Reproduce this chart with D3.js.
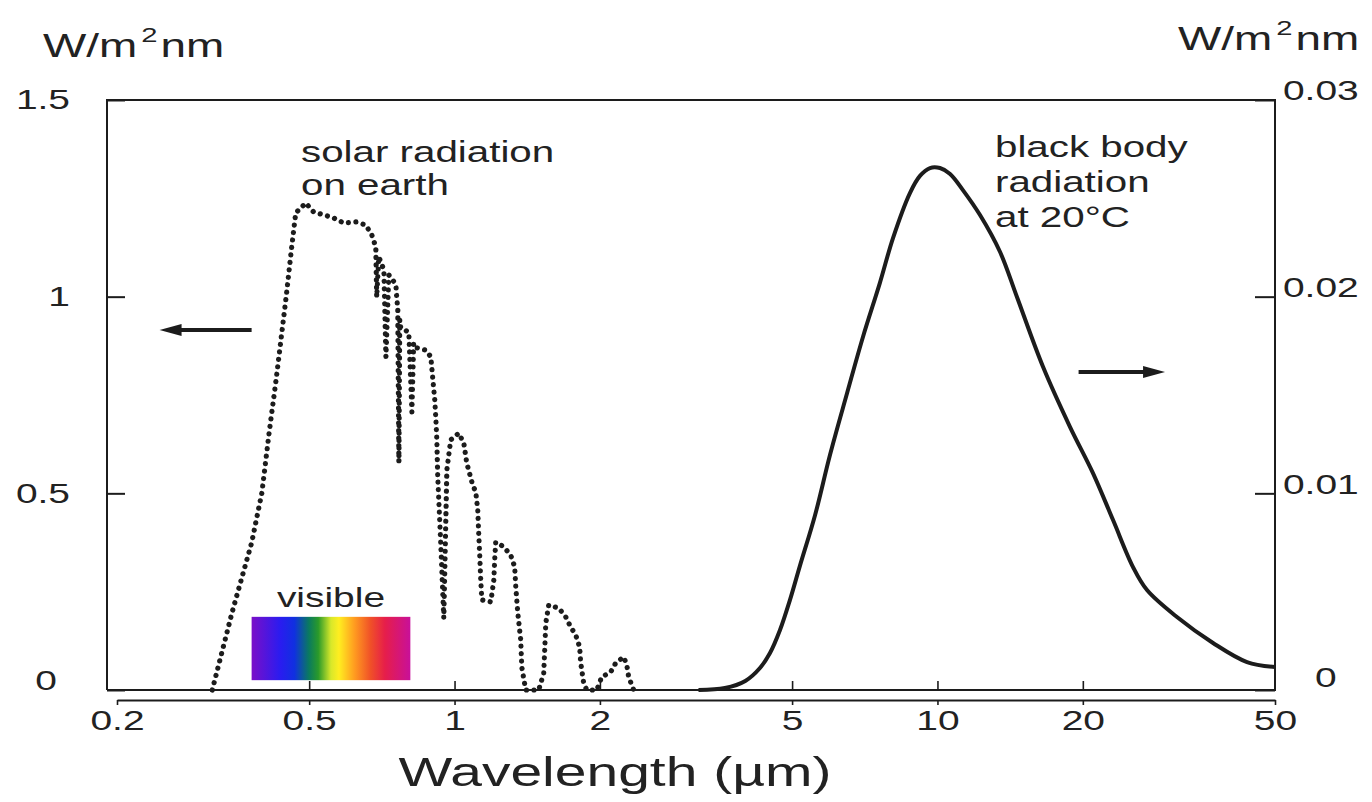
<!DOCTYPE html>
<html>
<head>
<meta charset="utf-8">
<script src="https://cdn.jsdelivr.net/npm/d3@7"></script>
<style>
  html, body { margin: 0; padding: 0; background: #fff; }
  svg { display: block; }
  text { font-family: "Liberation Sans", Arial, Helvetica, sans-serif; fill: #222; }
</style>
</head>
<body>
<svg id="chart" width="1372" height="802"></svg>
<script>
const xTicks = [0.2, 0.5, 1, 2, 5, 10, 20, 50];
const leftTicks = [0, 0.5, 1, 1.5];
const rightTicks = [0, 0.01, 0.02, 0.03];

// solar radiation on earth (dotted line, left axis, W/m²nm)
const solarWl = [0.315,0.346,0.380,0.399,0.413,0.427,0.448,0.460,0.469,0.492,0.511,0.536,0.562,0.590,0.625,0.655,0.674,0.687,
  0.690,0.697,0.714,0.721,0.731,0.738,0.756,0.759,0.763,0.767,0.770,0.774,0.804,0.816,0.823,0.835,0.872,0.893,0.902,0.910,
  0.915,0.919,0.923,0.936,0.950,0.964,0.982,1.020,1.045,1.060,1.086,1.107,1.117,1.122,1.128,1.133,1.139,1.189,1.206,1.211,
  1.217,1.264,1.307,1.332,1.339,1.352,1.371,1.378,1.404,1.494,1.530,1.538,1.545,1.567,1.644,1.699,1.740,1.782,1.816,1.825,
  1.851,1.878,1.970,2.017,2.106,2.157,2.240,2.273,2.294,2.350];
const solarVal = [0,0.196,0.374,0.501,0.653,0.788,0.999,1.126,1.213,1.238,1.215,1.208,1.200,1.187,1.190,1.182,1.157,1.126,
  0.999,1.101,1.068,0.847,1.055,1.050,1.030,0.999,0.966,0.580,0.941,0.920,0.910,0.707,0.882,0.870,0.864,0.847,0.788,0.737,
  0.686,0.636,0.542,0.376,0.183,0.559,0.636,0.653,0.628,0.577,0.529,0.501,0.458,0.399,0.338,0.280,0.229,0.224,0.280,0.331,
  0.376,0.364,0.343,0.313,0.262,0.196,0.127,0.058,0,0,0.043,0.109,0.170,0.216,0.208,0.186,0.160,0.140,0.109,0.069,
  0.018,0,0,0.033,0.046,0.069,0.084,0.064,0.033,0];

// black body radiation at 20°C (solid line, right axis)
const bodyWl = [3.20,3.63,4.00,4.29,4.50,4.72,4.95,5.19,5.58,5.99,6.50,7.01,7.60,8.09,8.77,9.20,9.65,10.12,10.62,11.29,
  12.25,13.48,14.61,16.55,18.82,20.99,23.10,25.41,27.16,31.33,37.21,43.75,50];
const bodyVal = [0,0.0001,0.00046,0.00112,0.00188,0.00305,0.00458,0.00631,0.0089,0.01195,0.0151,0.01795,0.0207,0.02298,
  0.02527,0.02614,0.02654,0.02654,0.02624,0.02542,0.02415,0.02227,0.01998,0.01642,0.01337,0.01103,0.00864,0.00625,
  0.00508,0.00371,0.00239,0.00142,0.00117];

const visibleBand = [0.38, 0.81];
const visibleLevel = [0.025, 0.186];
const spectrumStops = [
  [0.00, '#7a0fc8'], [0.18, '#2a1cf0'], [0.27, '#1030e0'], [0.36, '#0a7a60'], [0.42, '#2a9a2a'],
  [0.50, '#d8e82a'], [0.55, '#ffee20'], [0.65, '#ff9a20'], [0.75, '#f05028'], [0.84, '#e61e4a'], [1.00, '#c8109a']
];

const SX = 1.39;          // the scan is stretched sideways, text too
const INK = '#1c1c1c';

const svg = d3.select('#chart');
const x = d3.scaleLog().domain([0.2, 50]).range([117, 1275]);
const y = d3.scaleLinear().domain([0, 1.5]).range([690, 100]);
const yR = d3.scaleLinear().domain([0, 0.03]).range([690, 100]);

const frameL = x(0.2) - 10, frameR = x(50), frameT = y(1.5), frameB = y(0);

function stretchText(sel) {
  sel.each(function () {
    const t = d3.select(this);
    const tx = +t.attr('x') || 0;
    t.attr('x', tx / SX).attr('transform', `scale(${SX},1)`);
  });
}

function label(txt, px, py, size, anchor) {
  return svg.append('text')
    .attr('transform', `translate(${px},${py}) scale(${SX},1)`)
    .attr('font-size', size)
    .attr('text-anchor', anchor || 'start')
    .text(txt);
}

// visible spectrum bar
const grad = svg.append('defs').append('linearGradient').attr('id', 'spec');
spectrumStops.forEach(s => grad.append('stop').attr('offset', s[0]).attr('stop-color', s[1]));
svg.append('rect')
  .attr('x', x(visibleBand[0]))
  .attr('y', y(visibleLevel[1]))
  .attr('width', x(visibleBand[1]) - x(visibleBand[0]))
  .attr('height', y(visibleLevel[0]) - y(visibleLevel[1]))
  .attr('fill', 'url(#spec)');
label('visible', (x(visibleBand[0]) + x(visibleBand[1])) / 2, 607, 28, 'middle');

// frame
svg.append('path')
  .attr('d', `M${frameL},${frameB}V${frameT}H${frameR}V${frameB}H${frameL}`)
  .attr('fill', 'none').attr('stroke', INK).attr('stroke-width', 2);

// left axis
const gl = svg.append('g').attr('transform', `translate(${frameL},0)`)
  .call(d3.axisLeft(y).tickValues(leftTicks).tickSize(-18).tickPadding(37)
    .tickFormat(d => d === 0 ? '0' : String(d)));
gl.select('.domain').remove();
gl.selectAll('line').attr('stroke', INK).attr('stroke-width', 2);
gl.selectAll('text').attr('font-size', 28).attr('fill', '#222')
  .attr('y', d => d === 0 ? -9 : 0)
  .attr('x', d => d === 0 ? -50 : -37);
stretchText(gl.selectAll('text'));

// right axis
const gr = svg.append('g').attr('transform', `translate(${frameR},0)`)
  .call(d3.axisRight(yR).tickValues(rightTicks).tickSize(-20).tickPadding(8)
    .tickFormat(d => d === 0 ? '0' : d3.format('.2f')(d)));
gr.select('.domain').remove();
gr.selectAll('line').attr('stroke', INK).attr('stroke-width', 2);
gr.selectAll('text').attr('font-size', 28).attr('fill', '#222')
  .attr('y', d => d === 0 ? -12 : -9)
  .attr('x', d => d === 0 ? 40 : 8);
stretchText(gr.selectAll('text'));

// x axis: ticks up from the baseline, and a second line with labels below
const gt = svg.append('g').attr('transform', `translate(0,${frameB})`)
  .call(d3.axisTop(x).tickValues(xTicks.slice(1, -1)).tickSize(9).tickFormat(''));
gt.select('.domain').remove();
gt.selectAll('line').attr('stroke', INK).attr('stroke-width', 1.6);

const gb = svg.append('g').attr('transform', `translate(0,${frameB + 10})`)
  .call(d3.axisBottom(x).tickValues(xTicks).tickSize(5).tickSizeOuter(0).tickPadding(5)
    .tickFormat(d => String(d)));
gb.select('.domain').attr('stroke', INK).attr('stroke-width', 2);
gb.selectAll('line').attr('stroke', INK).attr('stroke-width', 1.6);
gb.selectAll('text').attr('font-size', 28).attr('fill', '#333');
stretchText(gb.selectAll('text'));

label('Wavelength (\u00b5m)', 615, 786, 41, 'middle').attr('fill', '#333');

// units
function unit(px, py) {
  const t = label('W/m', px, py, 33);
  t.append('tspan').attr('font-size', 21).attr('dx', 3).attr('dy', -15).text('2');
  t.append('tspan').attr('dx', 2).attr('dy', 15).text('nm');
}
unit(43, 57);
unit(1178, 50);

// curves
const solar = solarWl.map((w, i) => [w, solarVal[i]]);
const body = bodyWl.map((w, i) => [w, bodyVal[i]]);

svg.append('path')
  .attr('d', d3.line().x(d => x(d[0])).y(d => y(d[1]))(solar))
  .attr('fill', 'none').attr('stroke', INK)
  .attr('stroke-width', 5.2).attr('stroke-linecap', 'round')
  .attr('stroke-dasharray', '0.01 7.5');

svg.append('path')
  .attr('d', d3.line().curve(d3.curveCatmullRom.alpha(0.5)).x(d => x(d[0])).y(d => yR(d[1]))(body))
  .attr('fill', 'none').attr('stroke', INK).attr('stroke-width', 4);

// arrows pointing to each curve's axis
function arrow(x0, x1, py) {
  const dir = Math.sign(x1 - x0);
  svg.append('line').attr('x1', x0).attr('x2', x1 - dir * 14).attr('y1', py).attr('y2', py)
    .attr('stroke', INK).attr('stroke-width', 4);
  svg.append('path')
    .attr('d', `M${x1},${py}L${x1 - dir * 22},${py - 6}L${x1 - dir * 22},${py + 6}Z`)
    .attr('fill', INK);
}
arrow(x(0.38), x(0.245), y(0.915));
arrow(x(19.6), x(29.6), yR(0.01617));

// annotations
label('solar radiation', 301, 162, 29);
label('on earth', 301, 195, 29);
label('black body', 995, 157, 29);
label('radiation', 995, 192, 29);
label('at 20\u00b0C', 995, 227, 29);
</script>
</body>
</html>
